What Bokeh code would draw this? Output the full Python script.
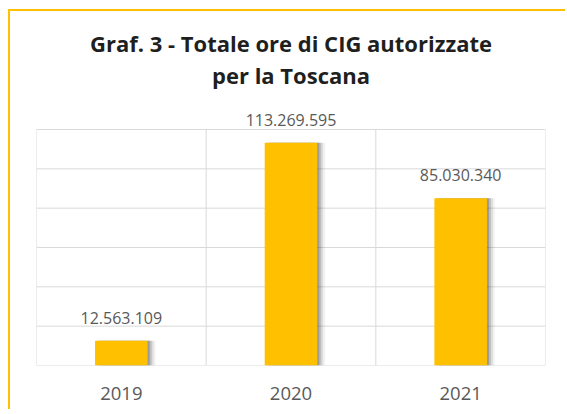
from bokeh.plotting import figure
from bokeh.models import ColumnDataSource, Range1d, FixedTicker, LabelSet, Title
from bokeh.core.properties import value
from bokeh.embed import file_html
from bokeh.resources import INLINE

# ---- data ----
years = ["2019", "2020", "2021"]
hours = [12563109, 113269595, 85030340]
y_tick_step = 20_000_000
y_max = 120_000_000

title_line1 = "Graf. 3 - Totale ore di CIG autorizzate"
title_line2 = "per la Toscana"

BAR = "#FFC000"
GRID = "#D9D9D9"
TXT = "#595959"
FONT = "Open Sans"

xs = list(range(len(years)))
labels = [f"{v:,}".replace(",", ".") for v in hours]
src = ColumnDataSource(dict(x=xs, year=years, hours=hours, label=labels))

y_top = y_max * 1.1695  # headroom above the plot area for the value labels

p = figure(width=557, height=400, output_backend="svg", toolbar_location=None,
           x_range=Range1d(-0.5, len(years) - 0.5), y_range=Range1d(0, y_top),
           min_border_left=26, min_border_right=22, min_border_bottom=46, min_border_top=78)
p.title.text = ""
p.title.visible = False

# titles (t2 closest to the frame)
t2 = Title(text=title_line2, align="center", text_font=FONT, text_font_size="22px",
           text_font_style="bold", text_color="#1F1F1F", standoff=0)
t1 = Title(text=title_line1, align="center", text_font=FONT, text_font_size="22px",
           text_font_style="bold", text_color="#1F1F1F", standoff=0)
p.add_layout(t2, "above")
p.add_layout(t1, "above")

# plot-area gridlines: horizontal at tick values, vertical at category boundaries
h_ticks = list(range(0, y_max + 1, y_tick_step))
bounds = [x - 0.5 for x in xs] + [len(xs) - 0.5]
p.segment(x0=bounds, y0=[0] * len(bounds), x1=bounds, y1=[y_max] * len(bounds),
          line_color=GRID, line_width=1)
p.segment(x0=[-0.5] * len(h_ticks), y0=h_ticks, x1=[len(xs) - 0.5] * len(h_ticks), y1=h_ticks,
          line_color=GRID, line_width=1)

# bar shadow layers
px = 1.0 / 170.0
for k, a in [(2, 0.28), (4, 0.20), (6, 0.12), (8, 0.06)]:
    sh = ColumnDataSource(dict(x=[x + k * px for x in xs], hours=hours))
    p.vbar(x="x", top="hours", bottom=0, width=0.31, source=sh,
           fill_color="#404040", fill_alpha=a, line_color=None)

p.vbar(x="x", top="hours", bottom=0, width=0.31, source=src,
       fill_color=BAR, line_color=None)

ls = LabelSet(x="x", y="hours", text="label", source=src, text_align="center",
              text_baseline="bottom", y_offset=17, text_font=value(FONT),
              text_font_size=value("16px"), text_color=TXT)
p.add_layout(ls)

# axes
p.yaxis.visible = False
p.xaxis.ticker = FixedTicker(ticks=xs)
p.xaxis.major_label_overrides = {i: y for i, y in enumerate(years)}
p.xaxis.axis_line_color = None
p.xaxis.major_tick_line_color = None
p.xaxis.minor_tick_line_color = None
p.xaxis.major_label_text_font = FONT
p.xaxis.major_label_text_font_size = "18.5px"
p.xaxis.major_label_text_color = TXT
p.xaxis.major_label_standoff = 15

p.xgrid.visible = False
p.ygrid.visible = False
p.outline_line_color = None

p.background_fill_color = "white"
p.border_fill_color = "white"
p.styles = {"border-top": "2px solid #FFC000", "border-left": "2px solid #FFC000",
            "margin-left": "8px", "margin-top": "9px"}

open("out.html", "w").write(file_html(p, INLINE))
